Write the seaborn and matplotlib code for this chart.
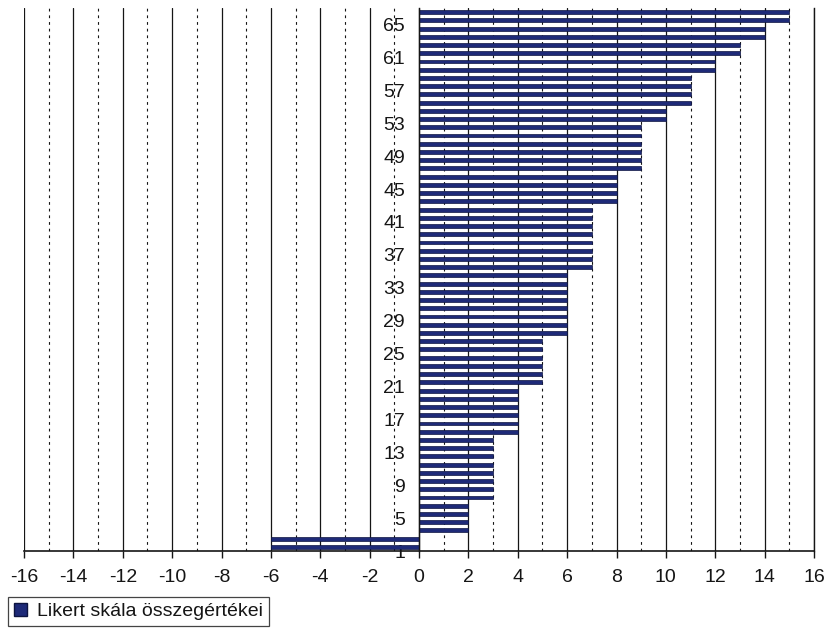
import matplotlib
matplotlib.use("Agg")
import matplotlib.pyplot as plt
from matplotlib.patches import Patch
from matplotlib import font_manager
import seaborn as sns
import pandas as pd

# --- data (category index -> Likert total score) ---
categories = list(range(1, 67))
scores = ([-6] * 2 + [2] * 4 + [3] * 8 + [4] * 6 + [5] * 6 + [6] * 8 + [7] * 8 +
          [8] * 4 + [9] * 6 + [10] * 2 + [11] * 4 + [12] * 2 + [13] * 2 +
          [14] * 2 + [15] * 2)
y_tick_labels = list(range(1, 67, 4))
x_ticks = list(range(-16, 17, 2))
series_name = "Likert skála összegértékei"

sns.set_theme(style="white")
names = {f.name for f in font_manager.fontManager.ttflist}
narrow = "Liberation Sans Narrow" in names
fam = ["Liberation Sans Narrow"] if narrow else []
plt.rcParams["font.family"] = fam + ["Liberation Sans", "DejaVu Sans"]
plt.rcParams["axes.unicode_minus"] = False
fs = 15 if narrow else 14
lfs = 15 if narrow else 14

bar_color = "#1e2a78"
ink = "#151515"

df = pd.DataFrame({"cat": [str(c) for c in categories], "score": scores})
order = [str(c) for c in reversed(categories)]

fig = plt.figure(figsize=(8.24, 6.28), dpi=100)
ax = fig.add_axes([24 / 824, 1 - 551 / 628, 790 / 824, 543 / 628])

sns.barplot(data=df, x="score", y="cat", order=order, orient="h",
            color=bar_color, width=0.47, edgecolor="#0d1440", linewidth=0.5,
            saturation=1, ax=ax, zorder=2)

# y axis placed at x = 0 (do this before configuring ticks: it resets them)
ax.spines["left"].set_position(("data", 0))

ax.set_xlim(-16, 16)
ax.set_ylim(len(categories) - 0.5, -0.5)
ax.set_xlabel("")
ax.set_ylabel("")

# x ticks / grid
ax.set_xticks(x_ticks)
ax.set_xticklabels([str(t) for t in x_ticks])
ax.set_xticks(list(range(-15, 16, 2)), minor=True)
ax.tick_params(axis="x", which="major", direction="out", length=5, width=1,
               color=ink, pad=8, bottom=True, labelsize=fs, labelcolor=ink)
ax.tick_params(axis="x", which="minor", length=0)
ax.grid(axis="x", which="major", color=ink, linewidth=0.9, linestyle="-")
ax.grid(axis="x", which="minor", color=ink, linewidth=0.8,
        linestyle=(0, (2.5, 3.5)))
ax.grid(axis="y", visible=False)
ax.set_axisbelow(True)

# y labels on the boundaries between categories
pos = {c: i for i, c in enumerate(order)}
ax.set_yticks([pos[str(k)] + 0.5 for k in y_tick_labels])
ax.set_yticklabels([str(k) for k in y_tick_labels])
ax.tick_params(axis="y", length=0, pad=10, labelsize=fs, labelcolor=ink)

for s in ["left", "right", "bottom"]:
    ax.spines[s].set_color(ink)
    ax.spines[s].set_linewidth(1.0)
ax.spines["top"].set_visible(False)
ax.spines["bottom"].set_linewidth(1.2)

leg = fig.legend(handles=[Patch(facecolor=bar_color, edgecolor="#0d1440",
                                label=series_name)],
                 loc="lower left", bbox_to_anchor=(8 / 824, 2 / 628),
                 frameon=True, fancybox=False, fontsize=lfs,
                 handlelength=0.7, handleheight=0.7, handletextpad=0.5,
                 borderpad=0.3, borderaxespad=0)
leg.get_frame().set_edgecolor(ink)
leg.get_frame().set_linewidth(0.9)
for t in leg.get_texts():
    t.set_color(ink)

fig.savefig("out.png", dpi=100, facecolor="white")
